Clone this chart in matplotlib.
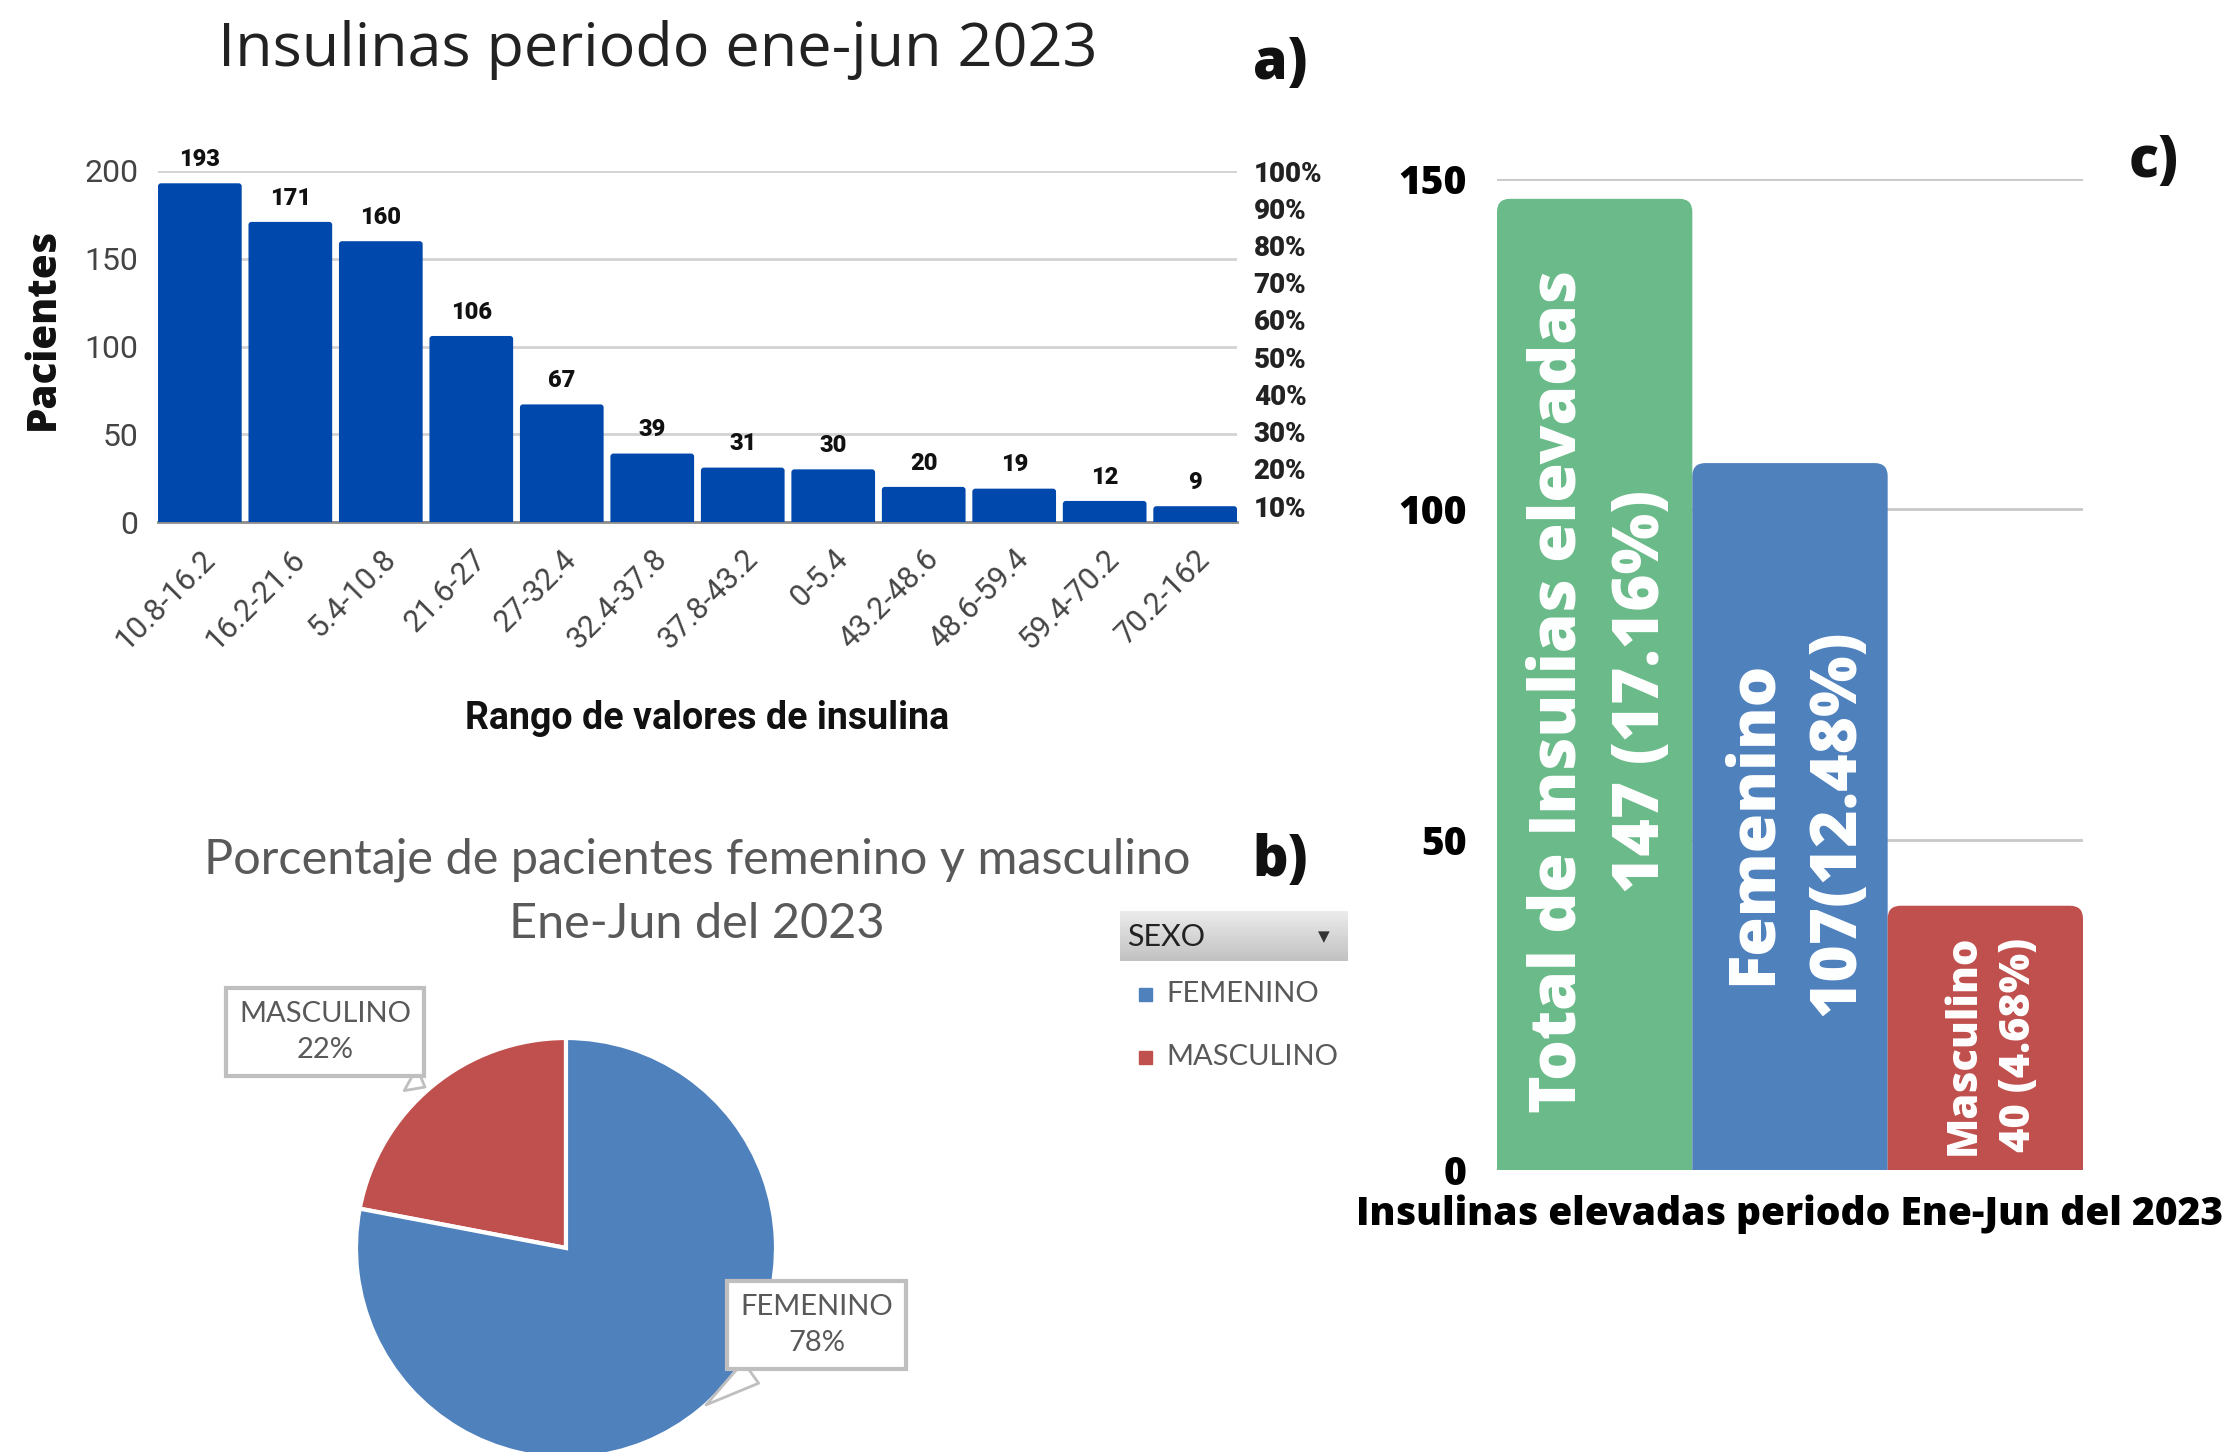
import matplotlib.pyplot as plt
import matplotlib.patches as mpatches
import numpy as np

# datos del panel a)
rangos = ['10.8-16.2', '16.2-21.6', '5.4-10.8', '21.6-27', '27-32.4', '32.4-37.8',
          '37.8-43.2', '0-5.4', '43.2-48.6', '48.6-59.4', '59.4-70.2', '70.2-162']
pacientes = [193, 171, 160, 106, 67, 39, 31, 30, 20, 19, 12, 9]
ticks_pac = [0, 50, 100, 150, 200]
ticks_pct = [10, 20, 30, 40, 50, 60, 70, 80, 90, 100]

# datos del panel b)
sexo = ['MASCULINO', 'FEMENINO']
sexo_pct = [22, 78]
sexo_col = ['#C0504D', '#4F81BD']

# datos del panel c)
elevadas = ['Total de Insulias elevadas', 'Femenino', 'Masculino']
elevadas_n = [147, 107, 40]
elevadas_txt = ['147 (17.16%)', '107(12.48%)', '40 (4.68%)']
elevadas_col = ['#6BBB8A', '#4F81BD', '#C0504D']
ticks_elev = [0, 50, 100, 150]

W, H = 2229, 1452
fig = plt.figure(figsize=(W / 100, H / 100), dpi=100)
fig.patch.set_facecolor('white')


def px(x, y):
    return x / W, 1 - y / H


def ax_px(l, t, r, b):
    return fig.add_axes([l / W, 1 - b / H, (r - l) / W, (b - t) / H])


def redondear(ax, bars, radio_px, ancho_px, alto_px):
    # cambia las barras por rectangulos con esquinas superiores redondeadas
    x0, x1 = ax.get_xlim()
    y0, y1 = ax.get_ylim()
    ux = ancho_px / (x1 - x0)
    uy = alto_px / (y1 - y0)
    extra = 10 * radio_px / uy
    for b in bars:
        r = mpatches.FancyBboxPatch((b.get_x(), b.get_y() - extra), b.get_width(),
                                    b.get_height() + extra,
                                    boxstyle=f'round,pad=0,rounding_size={radio_px / ux}',
                                    mutation_aspect=ux / uy, fc=b.get_facecolor(),
                                    ec='none', zorder=3)
        ax.add_patch(r)
        b.remove()


# ---------------- a) ----------------
ax = ax_px(158, 171, 1237, 522)
x = np.arange(len(rangos))
ax.set_xlim(-0.4625, len(rangos) - 0.5375)
ax.set_ylim(0, 200)
barras = ax.bar(x, pacientes, width=0.925, color='#0148AD', zorder=3)
redondear(ax, barras, 3, 1237 - 158, 522 - 171)
for i, v in zip(x, pacientes):
    ax.text(i, v + 7, str(v), ha='center', va='bottom', fontsize=17,
            fontweight='heavy', family='Roboto', color='#111')
ax.set_yticks(ticks_pac)
ax.set_yticklabels([str(t) for t in ticks_pac], fontsize=23, family='Roboto', color='#444')
ax.set_xticks(x)
ax.set_xticklabels(rangos, rotation=45, ha='right', rotation_mode='anchor',
                   fontsize=22, family='Roboto', color='#444')
ax.tick_params(length=0)
ax.tick_params(axis='x', pad=16)
ax.tick_params(axis='y', pad=14)
ax.grid(axis='y', color='#D3D3D3', lw=2, zorder=0)
for s in ['top', 'right', 'left']:
    ax.spines[s].set_visible(False)
ax.spines['bottom'].set_color('#8C8C8C')
ax.spines['bottom'].set_linewidth(2)

# eje secundario de porcentaje (10% queda a la altura de ~9 pacientes)
ax2 = ax.twinx()
escala = (200 - 9.1) / 90
ax2.set_ylim(10 - 9.1 / escala, 100)
ax2.set_yticks(ticks_pct)
ax2.set_yticklabels([f'{p}%' for p in ticks_pct], fontsize=20, fontweight='heavy',
                    family='Roboto', color='#222')
ax2.tick_params(length=0, pad=12)
for s in ax2.spines.values():
    s.set_visible(False)

fig.text(*px(658, 50), 'Insulinas periodo ene-jun 2023', ha='center', va='center',
         fontsize=44, family='Open Sans', color='#222')
fig.text(*px(43, 329), 'Pacientes', rotation=90, ha='center', va='center',
         fontsize=29, fontweight='heavy', family='Open Sans', color='#111')
fig.text(*px(707, 719), 'Rango de valores de insulina', ha='center', va='center',
         fontsize=27, fontweight='bold', family='Roboto', color='#111')
fig.text(*px(1280, 64), 'a)', ha='center', va='center', fontsize=40,
         fontweight='heavy', family='Open Sans', color='#111')

# ---------------- b) ----------------
axb = ax_px(146, 828, 986, 1668)
axb.pie(sexo_pct, colors=sexo_col, startangle=90, counterclock=True, radius=1,
        wedgeprops=dict(edgecolor='white', linewidth=3))
axb.set_xlim(-2, 2)
axb.set_ylim(-2, 2)
axb.set_aspect('equal')
axb.axis('off')

caja = dict(boxstyle='square,pad=0.45', fc='white', ec='#BFBFBF', lw=3)
flecha = dict(arrowstyle='wedge,tail_width=0.9,shrink_factor=0.5', fc='white',
              ec='#BFBFBF', lw=2)
axb.annotate(f'{sexo[0]}\n{sexo_pct[0]}%', xy=(-0.66, 0.76), xytext=(-1.148, 1.029),
             ha='center', va='center', fontsize=21, family='Lato', color='#595959',
             linespacing=1.5, bbox=caja, arrowprops=flecha, annotation_clip=False)
axb.annotate(f'{sexo[1]}\n{sexo_pct[1]}%', xy=(0.656, -0.755), xytext=(1.195, -0.367),
             ha='center', va='center', fontsize=21, family='Lato', color='#595959',
             linespacing=1.5, bbox=caja, arrowprops=flecha, annotation_clip=False)

fig.text(*px(697, 860), 'Porcentaje de pacientes femenino y masculino', ha='center',
         va='center', fontsize=35, family='Lato', color='#595959')
fig.text(*px(697, 924), 'Ene-Jun del 2023', ha='center', va='center',
         fontsize=35, family='Lato', color='#595959')
fig.text(*px(1280, 862), 'b)', ha='center', va='center', fontsize=40,
         fontweight='heavy', family='Open Sans', color='#111')

# leyenda tipo Excel
axl = ax_px(1120, 911, 1348, 961)
axl.imshow(np.linspace(0.92, 0.76, 20).reshape(-1, 1), cmap='gray', vmin=0, vmax=1,
           aspect='auto', extent=[0, 1, 0, 1])
axl.set_axis_off()
fig.text(*px(1127, 937), 'SEXO', ha='left', va='center', fontsize=22,
         family='Lato', color='#222')
fig.text(*px(1324, 937), '▼', ha='center', va='center', fontsize=11,
         family='DejaVu Sans', color='#333')
for nombre, col, yy in [(sexo[1], sexo_col[1], 994), (sexo[0], sexo_col[0], 1057)]:
    fig.patches.append(mpatches.Rectangle(px(1139, yy + 7), 13 / W, 13 / H,
                                          transform=fig.transFigure, color=col))
    fig.text(*px(1166, yy), nombre, ha='left', va='center', fontsize=21,
             family='Lato', color='#595959')

# ---------------- c) ----------------
axc = ax_px(1497, 179, 2083, 1170)
xc = np.arange(len(elevadas))
axc.set_xlim(-0.5, len(elevadas) - 0.5)
axc.set_ylim(0, 150)
barras_c = axc.bar(xc, elevadas_n, width=1.0, color=elevadas_col, zorder=3)
redondear(axc, barras_c, 13, 2083 - 1497, 1170 - 179)
axc.set_yticks(ticks_elev)
axc.set_yticklabels([str(t) for t in ticks_elev], fontsize=28, fontweight='heavy',
                    family='Open Sans', color='#000')
axc.set_xticks([])
axc.tick_params(length=0, pad=22)
axc.grid(axis='y', color='#C8C8C8', lw=2, zorder=0)
for s in axc.spines.values():
    s.set_visible(False)
tam = [46, 46, 30]
for i, v in enumerate(elevadas_n):
    axc.text(i + 0.03, v / 2 - 1, f'{elevadas[i]}\n{elevadas_txt[i]}', rotation=90,
             ha='center', va='center', multialignment='center', fontsize=tam[i],
             fontweight='heavy', family='Open Sans', color='white', linespacing=1.4,
             zorder=4)
axc.set_xlabel('Insulinas elevadas periodo Ene-Jun del 2023', fontsize=28,
               fontweight='heavy', family='Open Sans', color='#000', labelpad=18)
fig.text(*px(2154, 163), 'c)', ha='center', va='center', fontsize=40,
         fontweight='heavy', family='Open Sans', color='#111')

fig.savefig('out.png', dpi=100, facecolor='white')
